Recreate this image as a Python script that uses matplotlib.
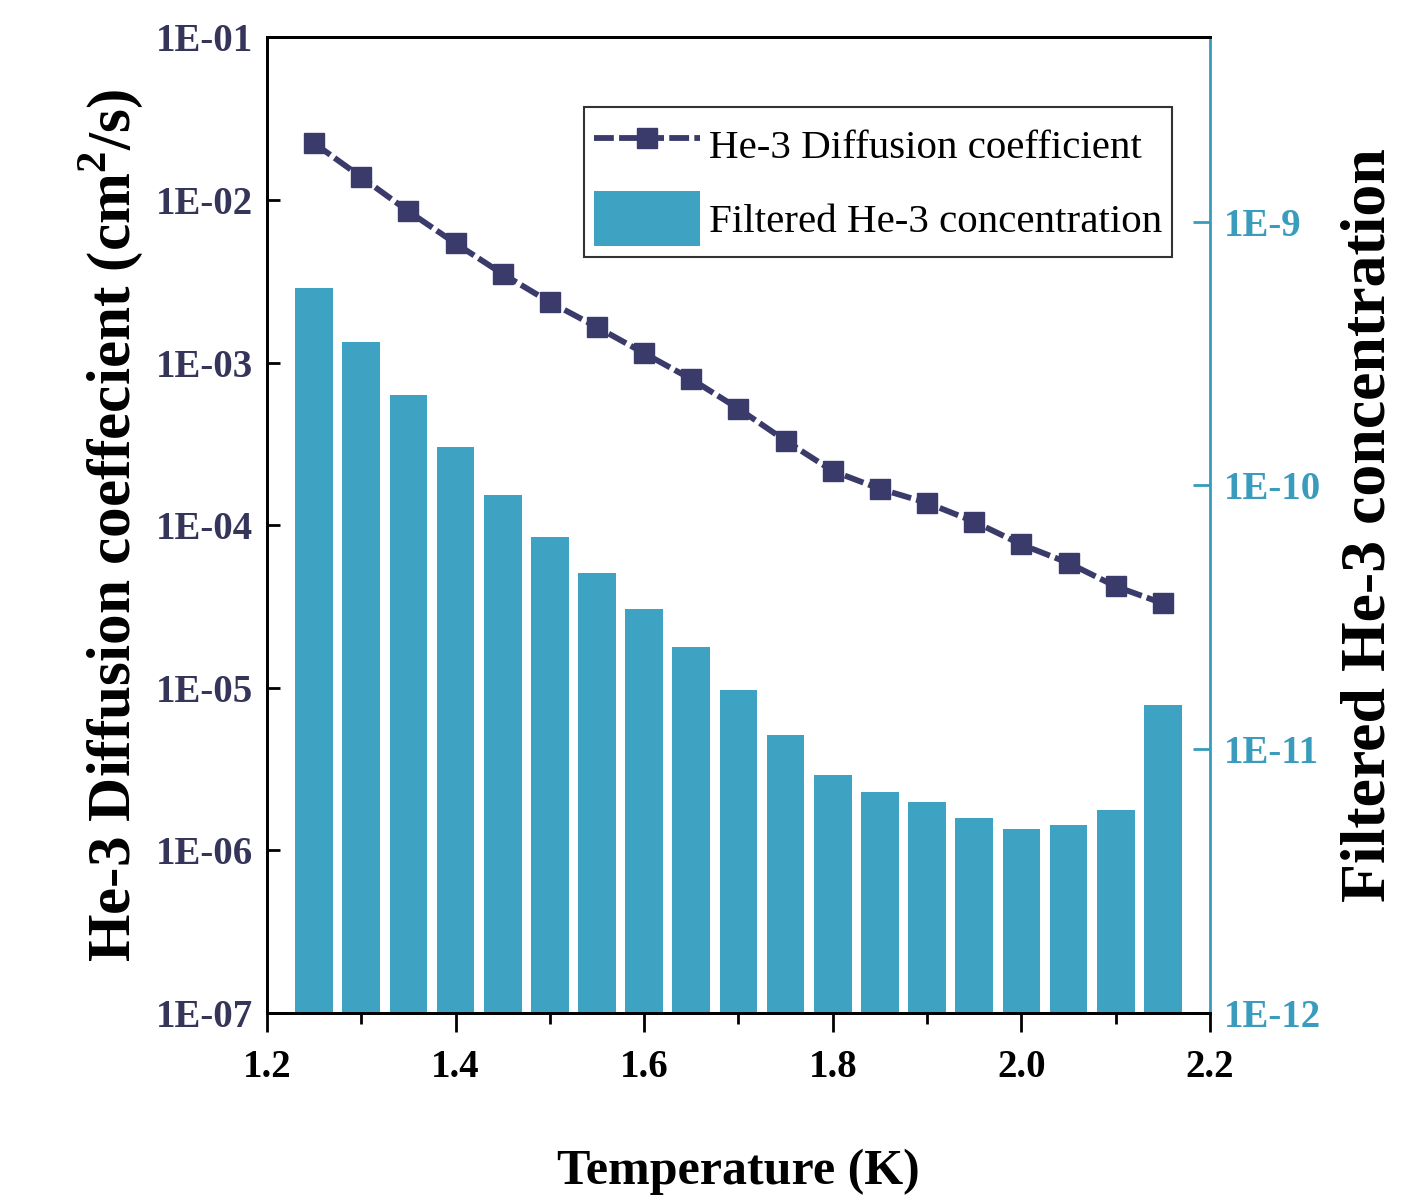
import numpy as np
import matplotlib
matplotlib.use("Agg")
from matplotlib import pyplot as plt
from matplotlib.ticker import FixedLocator, FuncFormatter, MultipleLocator, NullLocator

plt.rcParams['font.family'] = ['Liberation Serif', 'DejaVu Serif']
plt.rcParams['mathtext.fontset'] = 'custom'
plt.rcParams['mathtext.rm'] = 'Liberation Serif:bold'
plt.rcParams['mathtext.bf'] = 'Liberation Serif:bold'

temperature = [1.25, 1.30, 1.35, 1.40, 1.45, 1.50, 1.55, 1.60, 1.65, 1.70,
               1.75, 1.80, 1.85, 1.90, 1.95, 2.00, 2.05, 2.10, 2.15]
diffusion = [2.23e-2, 1.38e-2, 8.5e-3, 5.4e-3, 3.5e-3, 2.35e-3, 1.65e-3, 1.14e-3,
             7.9e-4, 5.2e-4, 3.3e-4, 2.15e-4, 1.67e-4, 1.37e-4, 1.05e-4, 7.6e-5,
             5.85e-5, 4.2e-5, 3.3e-5]
concentration = [5.6e-10, 3.5e-10, 2.2e-10, 1.4e-10, 9.2e-11, 6.4e-11, 4.65e-11,
                 3.4e-11, 2.43e-11, 1.67e-11, 1.13e-11, 8.0e-12, 6.9e-12, 6.3e-12,
                 5.5e-12, 5.0e-12, 5.15e-12, 5.9e-12, 1.47e-11]

left_ticks = [1e-7, 1e-6, 1e-5, 1e-4, 1e-3, 1e-2, 1e-1]
right_ticks = [1e-12, 1e-11, 1e-10, 1e-9]

line_color = '#3b3b6b'
bar_color = '#3ea2c3'
teal = '#3a9cbd'

fig = plt.figure(figsize=(14.15, 12.03), dpi=100)
ax = fig.add_axes([0.1887, 0.158, 0.8551 - 0.1887, 0.969 - 0.158])
ax2 = ax.twinx()
ax.set_zorder(ax2.get_zorder() + 1)
ax.patch.set_visible(False)

bars = ax2.bar(temperature, np.array(concentration) - 1e-12, width=0.04, bottom=1e-12,
               color=bar_color, label='Filtered He-3 concentration')
line, = ax.plot(temperature, diffusion, color=line_color, lw=4.2, ls=(0, (3.4, 0.9)),
                marker='s', ms=15, label='He-3 Diffusion coefficient')

ax.set_xlim(1.2, 2.2)
ax.set_yscale('log')
ax.set_ylim(1e-7, 1e-1)
ax2.set_yscale('log')
ax2.set_ylim(1e-12, 5e-9)

ax.xaxis.set_major_locator(MultipleLocator(0.2))
ax.xaxis.set_minor_locator(MultipleLocator(0.1))
ax.xaxis.set_major_formatter(FuncFormatter(lambda v, p: f'{v:.1f}'))
ax.tick_params(axis='x', which='major', direction='out', length=14, width=2,
               labelsize=28, pad=12)
ax.tick_params(axis='x', which='minor', direction='out', length=8, width=2)

ax.yaxis.set_major_locator(FixedLocator(left_ticks))
ax.yaxis.set_minor_locator(NullLocator())
ax.yaxis.set_major_formatter(FuncFormatter(lambda v, p: f'1E-{-int(round(np.log10(v))):02d}'))
ax.tick_params(axis='y', direction='in', length=9, width=2, labelsize=28,
               labelcolor='#35355a', pad=10)

ax2.yaxis.set_major_locator(FixedLocator(right_ticks))
ax2.yaxis.set_minor_locator(NullLocator())
ax2.yaxis.set_major_formatter(FuncFormatter(lambda v, p: f'1E-{-int(round(np.log10(v)))}'))
ax2.tick_params(axis='y', direction='in', length=12, width=2, labelsize=28,
                labelcolor=teal, color=teal, pad=10)

for lab in ax.get_xticklabels() + ax.get_yticklabels() + ax2.get_yticklabels():
    lab.set_fontweight('bold')

for s in ax.spines.values():
    s.set_linewidth(2)
for s in ax2.spines.values():
    s.set_linewidth(2)
ax2.spines['right'].set_color(teal)
ax.spines['right'].set_visible(False)

ax.set_xlabel('Temperature (K)', fontsize=36, fontweight='bold', labelpad=45)
ax.set_ylabel('He-3 Diffusion coeffecient (cm$^2$/s)', fontsize=44, fontweight='bold',
              labelpad=8)
ax2.set_ylabel('Filtered He-3 concentration', fontsize=46, fontweight='bold', labelpad=14)

leg = ax.legend([line, bars], ['He-3 Diffusion coefficient', 'Filtered He-3 concentration'],
                loc='upper right', bbox_to_anchor=(1172 / 1415, 1 - 107 / 1203),
                bbox_transform=fig.transFigure, fontsize=29.5, fancybox=False,
                edgecolor='#333333', framealpha=1, handlelength=2.6, handleheight=1.7,
                borderpad=0.25, labelspacing=0.45, handletextpad=0.2, borderaxespad=0)
leg.get_frame().set_linewidth(1.5)

fig.savefig('out.png', dpi=100)
